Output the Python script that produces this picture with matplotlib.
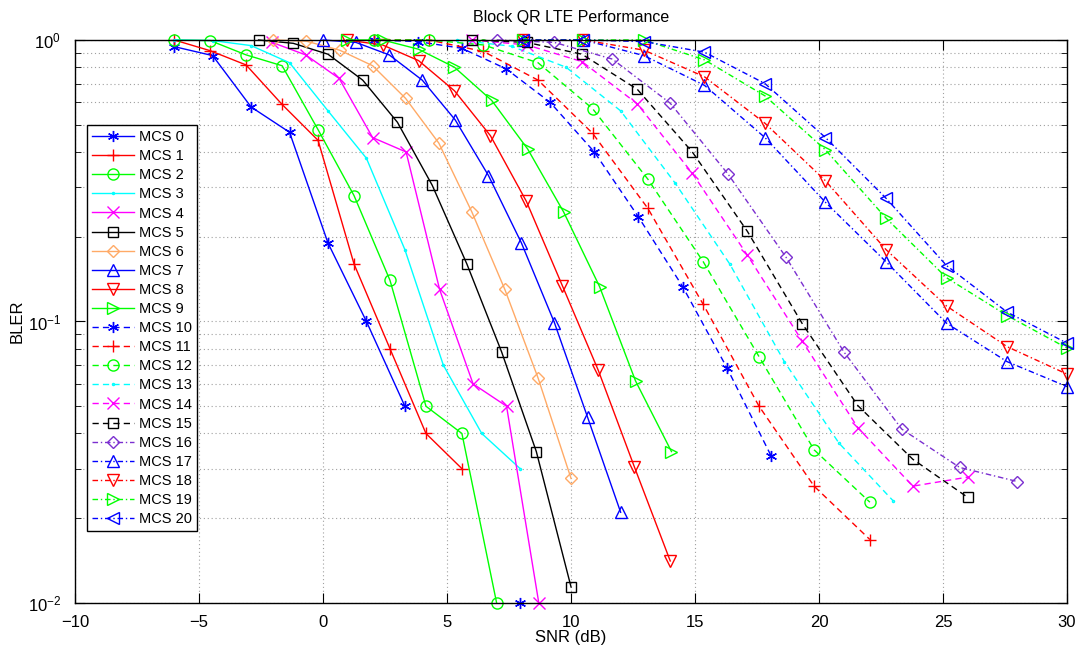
import matplotlib
matplotlib.use("Agg")
import matplotlib.pyplot as plt
import numpy as np

plt.rcParams['font.family'] = ['Liberation Sans', 'DejaVu Sans']
plt.rcParams['font.size'] = 12
plt.rcParams['axes.unicode_minus'] = True

nan = np.nan

# SNR grids (dB) and BLER values
snr_0 = [-6, -4.45, -2.9, -1.35, 0.2, 1.75, 3.3, 4.85, 6.4, 7.95]
bler_0 = [0.947, 0.88, 0.578, 0.47, 0.19, 0.1, 0.05, nan, nan, 0.01]
snr_1 = [-6, -4.55, -3.1, -1.65, -0.2, 1.25, 2.7, 4.15, 5.6]
bler_1 = [1.0, 0.916, 0.815, 0.59, 0.44, 0.16, 0.08, 0.04, 0.03]
snr_2 = [-6, -4.55, -3.1, -1.65, -0.2, 1.25, 2.7, 4.15, 5.6, 7.0]
bler_2 = [1.0, 0.995, 0.885, 0.81, 0.48, 0.28, 0.14, 0.05, 0.04, 0.01]
snr_3 = [-6, -4.45, -2.9, -1.35, 0.2, 1.75, 3.3, 4.85, 6.4, 7.95]
bler_3 = [1.0, 0.995, 0.955, 0.83, 0.56, 0.38, 0.18, 0.07, 0.04, 0.03]
snr_4 = [-2.05, -0.7, 0.65, 2.0, 3.35, 4.7, 6.05, 7.4, 8.7]
bler_4 = [0.98, 0.885, 0.73, 0.45, 0.40, 0.13, 0.06, 0.05, 0.01]
snr_5 = [-2.6, -1.2, 0.2, 1.6, 3.0, 4.4, 5.8, 7.2, 8.6, 10.0]
bler_5 = [1.0, 0.973, 0.89, 0.72, 0.51, 0.305, 0.16, 0.078, 0.0345, 0.0114]
snr_6 = [-2.0, -0.67, 0.67, 2.0, 3.33, 4.67, 6.0, 7.33, 8.67, 10.0]
bler_6 = [1.0, 0.99, 0.92, 0.81, 0.62, 0.43, 0.245, 0.13, 0.063, 0.0277]
snr_7 = [0, 1.33, 2.67, 4.0, 5.33, 6.67, 8.0, 9.33, 10.67, 12.0]
bler_7 = [1.0, 0.98, 0.885, 0.72, 0.52, 0.33, 0.19, 0.099, 0.0456, 0.021]
snr_8 = [0.95, 2.4, 3.85, 5.3, 6.75, 8.2, 9.65, 11.1, 12.55, 14.0]
bler_8 = [1.0, 0.96, 0.845, 0.66, 0.457, 0.267, 0.134, 0.067, 0.0305, 0.0141]
snr_9 = [0.95, 2.4, 3.85, 5.3, 6.8, 8.25, 9.7, 11.15, 12.6, 14.05]
bler_9 = [1.0, 1.0, 0.927, 0.80, 0.61, 0.41, 0.245, 0.133, 0.0615, 0.0345]
snr_10 = [2.05, 3.82, 5.6, 7.38, 9.16, 10.94, 12.72, 14.5, 16.28, 18.06]
bler_10 = [1.0, 0.987, 0.934, 0.79, 0.6, 0.40, 0.235, 0.133, 0.0686, 0.0334]
snr_11 = [2.05, 4.27, 6.47, 8.67, 10.87, 13.1, 15.33, 17.58, 19.8, 22.05]
bler_11 = [1.0, 1.0, 0.91, 0.72, 0.466, 0.252, 0.115, 0.05, 0.026, 0.0168]
snr_12 = [2.05, 4.27, 6.47, 8.67, 10.87, 13.1, 15.33, 17.58, 19.8, 22.05]
bler_12 = [1.0, 1.0, 0.96, 0.83, 0.57, 0.32, 0.163, 0.075, 0.035, 0.0228]
snr_13 = [5.4, 7.6, 9.8, 12.0, 14.2, 16.4, 18.6, 20.8, 23.0]
bler_13 = [1.0, 0.95, 0.80, 0.56, 0.31, 0.16, 0.072, 0.037, 0.023]
snr_14 = [6.0, 8.22, 10.44, 12.67, 14.89, 17.11, 19.33, 21.56, 23.78, 26.0]
bler_14 = [1.0, 0.96, 0.838, 0.593, 0.336, 0.172, 0.085, 0.042, 0.026, 0.028]
snr_15 = [6.0, 8.22, 10.44, 12.67, 14.89, 17.11, 19.33, 21.56, 23.78, 26.0]
bler_15 = [1.0, 0.98, 0.89, 0.668, 0.40, 0.209, 0.098, 0.0503, 0.0324, 0.0237]
snr_16 = [7.0, 9.33, 11.67, 14.0, 16.33, 18.67, 21.0, 23.33, 25.67, 28.0]
bler_16 = [1.0, 0.98, 0.855, 0.596, 0.334, 0.169, 0.078, 0.0415, 0.0303, 0.027]
snr_hi = [8.07, 10.5, 12.94, 15.38, 17.82, 20.26, 22.7, 25.14, 27.58, 30.0]
bler_17 = [1.0, 1.0, 0.88, 0.69, 0.45, 0.265, 0.163, 0.0986, 0.072, 0.0587]
bler_18 = [1.0, 1.0, 0.92, 0.74, 0.506, 0.316, 0.18, 0.1135, 0.0814, 0.065]
bler_19 = [1.0, 1.0, 1.0, 0.85, 0.633, 0.407, 0.233, 0.143, 0.105, 0.0804]
bler_20 = [1.0, 1.0, 0.987, 0.905, 0.70, 0.45, 0.274, 0.158, 0.108, 0.0837]

series = [
    (snr_0, bler_0), (snr_1, bler_1), (snr_2, bler_2), (snr_3, bler_3),
    (snr_4, bler_4), (snr_5, bler_5), (snr_6, bler_6), (snr_7, bler_7),
    (snr_8, bler_8), (snr_9, bler_9), (snr_10, bler_10), (snr_11, bler_11),
    (snr_12, bler_12), (snr_13, bler_13), (snr_14, bler_14), (snr_15, bler_15),
    (snr_16, bler_16), (snr_hi, bler_17), (snr_hi, bler_18), (snr_hi, bler_19),
    (snr_hi, bler_20),
]

blue, red, green, cyan, mag, blk = '#0000ff', '#ff0000', '#00ff00', '#00ffff', '#ff00ff', '#000000'
orange, purple = '#ffaa66', '#7b2fd0'
colors = [blue, red, green, cyan, mag, blk, orange, blue, red, green,
          blue, red, green, cyan, mag, blk,
          purple, blue, red, green, blue]
asterisk = (6, 2, 0)
markers = [asterisk, '+', 'o', '.', 'x', 's', 'D', '^', 'v', '>',
           asterisk, '+', 'o', '.', 'x', 's',
           'D', '^', 'v', '>', '<']
dashed = (4.5, 3.0)
dashdot = (4.0, 2.0, 1.0, 2.0)

fig = plt.figure(figsize=(10.81, 6.52), dpi=100)
ax = fig.add_axes([0.0694, 0.0752, 0.9177, 0.8635])

for i, (x, y) in enumerate(series):
    ms = 3 if markers[i] == '.' else 8
    if markers[i] in ('s', 'D'):
        ms = 6.5
    line, = ax.plot(x, y, color=colors[i], marker=markers[i], markersize=ms,
                    markerfacecolor='none', markeredgecolor=colors[i],
                    markeredgewidth=1.0, linewidth=1.0,
                    label='MCS %d' % i, clip_on=False)
    if 10 <= i <= 15:
        line.set_dashes(dashed)
    elif i >= 16:
        line.set_dashes(dashdot)

ax.set_yscale('log')
ax.set_xlim(-10, 30)
ax.set_ylim(0.01, 1)
ax.set_xticks(np.arange(-10, 31, 5))
ax.grid(True, which='major', axis='both', color='#a0a0a0', linestyle=(0, (1, 2.5)), linewidth=0.8)
ax.grid(True, which='minor', axis='y', color='#a0a0a0', linestyle=(0, (1, 2.5)), linewidth=0.8)
ax.tick_params(which='both', direction='in', top=True, right=True, labelsize=12)
ax.tick_params(which='major', length=7)
ax.tick_params(which='minor', length=4)
ax.tick_params(axis='x', pad=9)
ax.tick_params(axis='y', pad=10)
for s in ax.spines.values():
    s.set_linewidth(1.0)

ax.set_title('Block QR LTE Performance', fontsize=11.5, pad=13)
ax.set_xlabel('SNR (dB)', fontsize=12, labelpad=0)
ax.set_ylabel('BLER', fontsize=12, labelpad=2)

leg = ax.legend(loc='upper left', bbox_to_anchor=(0.012, 0.849), fontsize=10.5,
                numpoints=1, handlelength=2.9, handletextpad=0.3,
                labelspacing=0.35, borderpad=0.35, borderaxespad=0.0,
                fancybox=False, framealpha=1, edgecolor='black')
leg.get_frame().set_linewidth(1.0)

fig.savefig('out.png', dpi=100)
